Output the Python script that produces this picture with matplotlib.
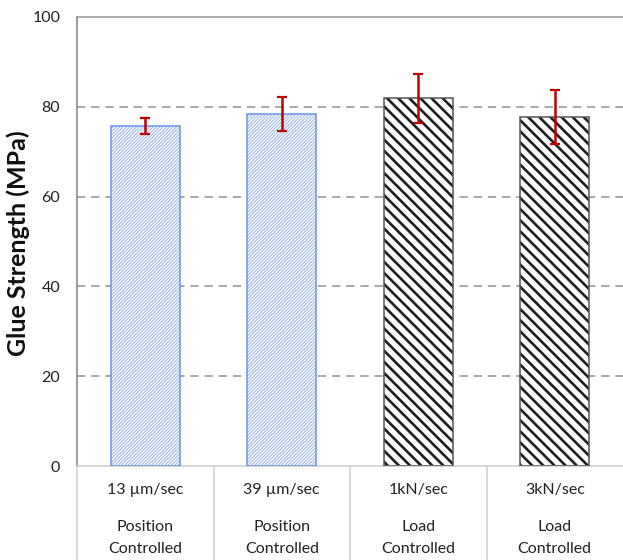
import matplotlib
matplotlib.use("Agg")
import matplotlib.pyplot as plt
import matplotlib.transforms as mtransforms

categories = ["13 µm/sec", "39 µm/sec", "1kN/sec", "3kN/sec"]
mode_line1 = ["Position", "Position", "Load", "Load"]
mode_line2 = ["Controlled", "Controlled", "Controlled", "Controlled"]
values = [75.8, 78.4, 81.9, 77.8]
errors = [1.8, 3.8, 5.5, 6.0]
yticks = [0, 20, 40, 60, 80, 100]

plt.rcParams['font.family'] = ['Lato', 'DejaVu Sans']

fig = plt.figure(figsize=(6.23, 5.6), dpi=100)
ax = fig.add_axes([77/623, 94/560, 1 - 77/623, (466-17)/560])

x = list(range(len(categories)))
width = 0.505

hatch_cols = ['#a3bce9', '#a3bce9', '#1e1e1e', '#1e1e1e']
edge_cols = ['#6a95e0', '#6a95e0', '#555555', '#555555']
hatches = ['/' * 10, '/' * 10, '\\' * 3, '\\' * 3]
hatch_lws = [0.8, 0.8, 1.9, 1.9]

for i in x:
    b = ax.bar(x[i], values[i], width=width, color='white', edgecolor=hatch_cols[i],
               linewidth=0, hatch=hatches[i], zorder=2)
    for p in b:
        if hasattr(p, 'set_hatch_linewidth'):
            p.set_hatch_linewidth(hatch_lws[i])
        else:
            p._hatch_linewidth = hatch_lws[i]
    ax.bar(x[i], values[i], width=width, facecolor='none', edgecolor=edge_cols[i],
           linewidth=1.1, zorder=3)

ax.errorbar(x, values, yerr=errors, fmt='none', ecolor='#c00000', elinewidth=1.8,
            capsize=3.5, capthick=1.6, zorder=4)

ax.set_xlim(-0.5, 3.5)
ax.set_ylim(0, 100)
ax.set_yticks(yticks)
ax.set_yticklabels([str(t) for t in yticks], fontsize=11.5, color='#222222')
ax.tick_params(axis='y', length=0, pad=12)
ax.set_xticks([])

for t in yticks[1:-1]:
    ax.axhline(t, color='#999999', linestyle=(0, (5, 3.5)), linewidth=1.2, zorder=1)

ax.spines['right'].set_visible(False)
ax.spines['left'].set_color('#8c8c8c')
ax.spines['left'].set_linewidth(1.2)
ax.spines['top'].set_color('#a0a0a0')
ax.spines['top'].set_linewidth(1.2)
ax.spines['bottom'].set_color('#d0d0d0')
ax.spines['bottom'].set_linewidth(1.2)

trans = mtransforms.blended_transform_factory(ax.transData, ax.transAxes)
bottom_ax = -94/449
for b in [-0.5, 0.5, 1.5, 2.5]:
    ax.plot([b, b], [0, bottom_ax], transform=trans, color='#d0d0d0', linewidth=1.1,
            clip_on=False, zorder=1)

for i in x:
    ax.text(x[i], -24/449, categories[i], transform=trans, ha='center', va='center',
            fontsize=11.5, color='#222222')
    ax.text(x[i], -61/449, mode_line1[i], transform=trans, ha='center', va='center',
            fontsize=11.5, color='#222222')
    ax.text(x[i], -83/449, mode_line2[i], transform=trans, ha='center', va='center',
            fontsize=11.5, color='#222222')

fig.text(18/623, 1 - 243/560, "Glue Strength (MPa)", rotation=90, ha='center', va='center',
         fontsize=18, fontweight='bold', color='#111111')

fig.savefig("out.png", dpi=100)
